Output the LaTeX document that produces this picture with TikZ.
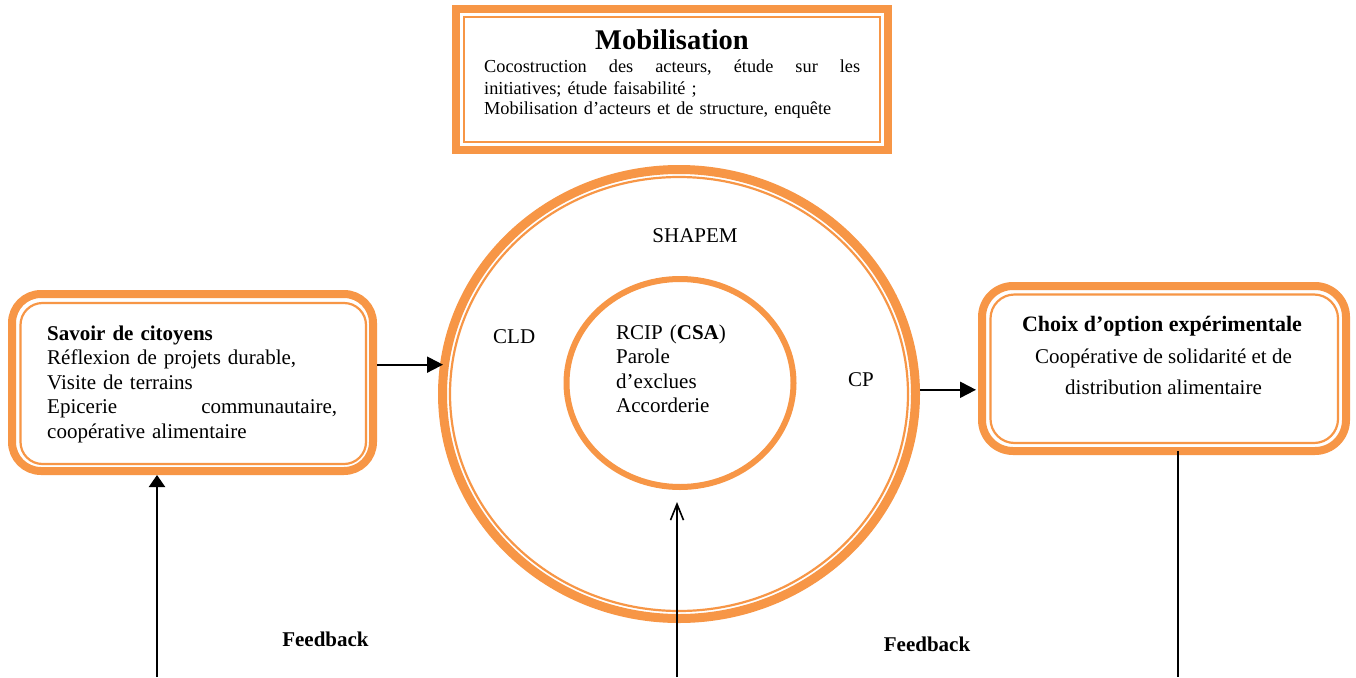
\documentclass[tikz,border=0pt]{standalone}
\usepackage{fontspec}
\setmainfont{Liberation Serif}
\usetikzlibrary{arrows.meta,shapes.geometric}
\definecolor{accentorange}{HTML}{F79646}

\tikzset{
  frame/.style={draw=accentorange, line width=8pt, inner sep=0pt, fill=white},
  innerrule/.style={draw=accentorange, line width=2.2pt},
  txt/.style={font=\fontsize{21}{24.5}\selectfont, inner sep=0pt},
  link/.style={line width=2pt, -{Triangle[length=16pt,width=16pt]}},
  uplink/.style={line width=2.2pt, -{Triangle[length=12pt,width=16pt]}},
  openlink/.style={line width=1.6pt, -{Straight Barb[length=16pt,width=13pt,line width=1.6pt]}},
  plainlink/.style={line width=1.4pt},
}

\begin{document}
\begin{tikzpicture}[x=1pt,y=1pt]
  \useasboundingbox[fill=white] (0,0) rectangle (1356,-677);

  % Mobilisation box
  \node[frame, minimum width=432pt, minimum height=141pt] (mob) at (672,-79.5) {};
  \draw[innerrule] (464,-17) rectangle (880,-142);
  \node[txt, anchor=base, font=\fontsize{28.5}{31}\selectfont\bfseries] (mobtitle) at (672,-50) {Mobilisation};
  \node[txt, anchor=base west, text width=376pt, align=left, font=\fontsize{18.3}{21}\selectfont] (mobtext) at (484,-73)
    {Cocostruction\hfill des\hfill acteurs,\hfill étude\hfill sur\hfill les\\
     initiatives; étude faisabilité ;\\
     Mobilisation d’acteurs et de structure, enquête};

  % Savoir de citoyens box
  \node[frame, rounded corners=29pt, minimum width=361pt, minimum height=177pt] (savoir) at (192.5,-382.5) {};
  \draw[innerrule, rounded corners=22pt] (20.5,-303) rectangle (366,-464);
  \node[txt, anchor=base west, text width=290pt, align=left] (savoirtext) at (47,-340)
    {\textbf{Savoir de citoyens}\\
     Réflexion de projets durable,\\
     Visite de terrains\\
     Epicerie\hfill communautaire,\\
     coopérative alimentaire};

  % Choix d'option box
  \node[frame, rounded corners=31pt, minimum width=364pt, minimum height=165pt] (choix) at (1164,-368.5) {};
  \draw[innerrule, rounded corners=24pt] (990.5,-294.5) rectangle (1338,-443);
  \node[txt, anchor=base, font=\fontsize{22}{26}\selectfont\bfseries] (choixtitle) at (1162,-331) {Choix d’option expérimentale};
  \node[txt, anchor=base] (choixl1) at (1163.5,-363) {Coopérative de solidarité et de};
  \node[txt, anchor=base] (choixl2) at (1163.5,-394) {distribution alimentaire};

  % Rings
  \node[frame, ellipse, fill=none, line width=9pt, minimum width=473pt, minimum height=449pt] (ring) at (679,-394) {};
  \draw[innerrule] (ring.center) ellipse [x radius=229pt, y radius=217pt];
  \node[frame, ellipse, fill=none, line width=6pt, minimum width=227pt, minimum height=208pt] (core) at (680,-383) {};

  % Ring labels
  \node[txt, anchor=base] (shapem) at (695,-242) {SHAPEM};
  \node[txt, anchor=base west] (cld) at (493,-343) {CLD};
  \node[txt, anchor=base west] (cp) at (848,-386) {CP};
  \node[txt, anchor=base west, text width=150pt, align=left] (rcip) at (616,-339)
    {RCIP (\textbf{CSA})\\ Parole\\ d’exclues\\ Accorderie};

  % Feedback labels
  \node[txt, anchor=base, font=\fontsize{21}{24}\selectfont\bfseries] (fbl) at (325.5,-646) {Feedback};
  \node[txt, anchor=base, font=\fontsize{21}{24}\selectfont\bfseries] (fbr) at (927,-651) {Feedback};

  % Connectors
  \draw[link, shorten >=-3pt] (savoir.east |- ring.173.7) -- (ring.173.7);
  \draw[link, shorten >=2pt] (ring.1.9) -- (choix.west |- ring.1.9);

  \coordinate (fb1) at (157,-677);
  \coordinate (fb2) at (677,-677);
  \coordinate (fb3) at (1178,-677);
  \draw[uplink] (fb1) -- (fb1 |- savoir.south);
  \draw[openlink, shorten >=12pt] (fb2) -- (fb2 |- core.south);
  \draw[plainlink] ([yshift=4pt]choix.south -| fb3) -- (fb3);
\end{tikzpicture}
\end{document}
